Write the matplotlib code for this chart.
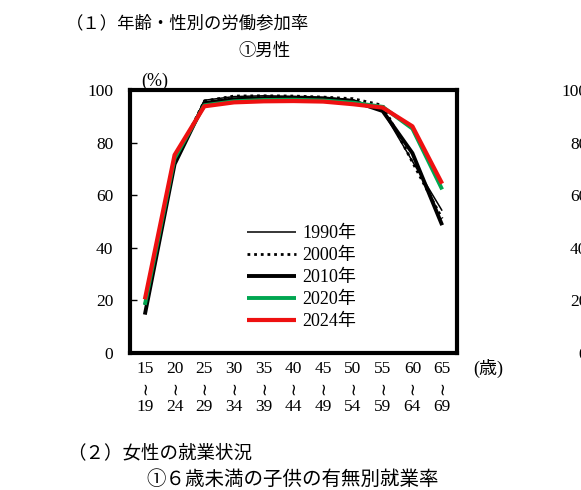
import matplotlib
matplotlib.use("Agg")
import matplotlib.pyplot as plt

ages_top = ["15", "20", "25", "30", "35", "40", "45", "50", "55", "60", "65"]
ages_bot = ["19", "24", "29", "34", "39", "44", "49", "54", "59", "64", "69"]

years = ["1990年", "2000年", "2010年", "2020年", "2024年"]
r1990 = [18.3, 71.7, 96.1, 97.5, 97.8, 97.6, 97.3, 96.3, 92.1, 72.9, 54.1]
r2000 = [18.4, 72.7, 95.8, 97.7, 97.8, 97.7, 97.3, 96.7, 94.2, 72.6, 51.1]
r2010 = [14.6, 71.8, 95.0, 96.5, 96.9, 97.0, 96.6, 95.8, 92.0, 76.0, 48.6]
r2020 = [18.3, 74.0, 94.2, 95.7, 96.2, 96.3, 96.0, 95.2, 93.6, 85.3, 62.2]
r2024 = [20.4, 75.3, 93.8, 95.3, 95.7, 95.8, 95.6, 94.6, 93.3, 86.2, 64.4]
yticks = [0, 20, 40, 60, 80, 100]

serif = ["Liberation Serif", "DejaVu Sans", "Noto Sans CJK JP"]
gothic = ["Noto Sans CJK JP", "DejaVu Sans"]
FS = 12.5

W, H = 581, 490
fig = plt.figure(figsize=(W / 100, H / 100), dpi=100)

def ax_rect(x0, y0, x1, y1):
    return [x0 / W, 1 - y1 / H, (x1 - x0) / W, (y1 - y0) / H]

ax = fig.add_axes(ax_rect(130, 90, 457, 353))
x = list(range(len(ages_top)))
styles = [
    dict(color="black", lw=1.1, ls="-"),
    dict(color="black", lw=2.0, ls=(0, (1, 1.4))),
    dict(color="black", lw=2.8, ls="-"),
    dict(color="#00a650", lw=2.8, ls="-"),
    dict(color="#ee1111", lw=3.0, ls="-"),
]
for data, lab, st in zip([r1990, r2000, r2010, r2020, r2024], years, styles):
    ax.plot(x, data, label=lab, solid_capstyle="butt", **st)

ax.set_xlim(-0.5, len(x) - 0.5)
ax.set_ylim(0, 100)
ax.set_yticks(yticks)
ax.set_yticklabels([str(v) for v in yticks], family=serif, fontsize=FS)
ax.set_xticks(x)
ax.set_xticklabels(ages_top, family=serif, fontsize=FS)
ax.tick_params(axis="y", direction="in", length=5, width=1, pad=12)
ax.tick_params(axis="x", length=0, pad=6)
for s in ax.spines.values():
    s.set_linewidth(3.0)

# wave marks and upper age bounds under each tick
tr = ax.get_xaxis_transform()
for xi, b in zip(x, ages_bot):
    ax.text(xi, -(388 - 353) / 263, "∼", transform=tr, rotation=90, rotation_mode="anchor",
            family=["DejaVu Sans"], fontsize=12, ha="center", va="center", clip_on=False)
    ax.text(xi, -(407 - 353) / 263, b, transform=tr, family=serif, fontsize=FS,
            ha="center", va="center", clip_on=False)

leg = ax.legend(loc="upper left", bbox_to_anchor=((247 - 130) / 327, (353 - 225) / 263),
                frameon=False, handlelength=2.7, handletextpad=0.35,
                labelspacing=0.28, borderpad=0, borderaxespad=0,
                prop=dict(family=serif, size=13))

fig.text(155 / W, 1 - 81 / H, "(%)", family=serif, fontsize=13, ha="center", va="center")
fig.text(488 / W, 1 - 368 / H, "(歳)", family=serif, fontsize=13, ha="center", va="center")

fig.text(66 / W, 1 - 23 / H, "（１）年齢・性別の労働参加率", family=gothic, fontsize=12.5,
         ha="left", va="center")
fig.text(264 / W, 1 - 51 / H, "①男性", family=gothic, fontsize=12.5, ha="center", va="center")
fig.text(67 / W, 1 - 453 / H, "（２）女性の就業状況", family=gothic, fontsize=13.3,
         ha="left", va="center")
fig.text(146 / W, 1 - 479 / H, "①６歳未満の子供の有無別就業率", family=gothic, fontsize=14,
         ha="left", va="center")

# neighbouring chart (clipped at the right edge)
ax2 = fig.add_axes(ax_rect(604, 90, 900, 353))
ax2.set_ylim(0, 100)
ax2.set_yticks(yticks)
ax2.set_yticklabels([str(v) for v in yticks], family=serif, fontsize=FS)
ax2.tick_params(axis="y", direction="in", length=5, pad=12)
ax2.set_xticks([])

fig.savefig("out.png", dpi=100)
